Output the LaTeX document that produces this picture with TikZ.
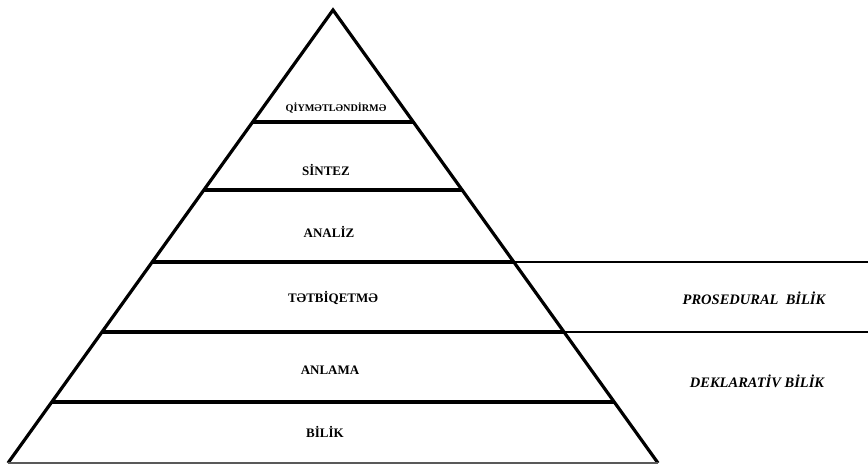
\documentclass[tikz,border=0pt]{standalone}
\usepackage{fontspec}
\setmainfont{Liberation Serif}
\begin{document}
\begin{tikzpicture}[x=1pt,y=-1pt,
  thickline/.style={line width=3.2pt},
  thinline/.style={line width=2pt},
  lvl/.style={font=\bfseries\fontsize{13}{15}\selectfont},
  side/.style={font=\bfseries\itshape\fontsize{14.5}{16}\selectfont}]
\useasboundingbox (0,0) rectangle (868,466);
\coordinate (apex) at (333,10);
\coordinate (bl) at (8,463);
\coordinate (br) at (658,463);
\draw[thickline, line join=miter] (bl) -- (apex) -- (br);
\draw[line width=1.2pt, gray!70!black] (bl) -- (br);
% level lines: x = 333 -/+ 0.7174*(y-10)
\foreach \y in {122,190,262,332,402}{
  \pgfmathsetmacro{\dx}{0.7174*(\y-10)}
  \draw[thickline] ({333-\dx},\y) -- ({333+\dx},\y);
}
\draw[thinline] ({333+0.7174*252},262) -- (868,262);
\draw[thinline] ({333+0.7174*322},332) -- (868,332);
\node[lvl, font=\bfseries\fontsize{10.2}{12}\selectfont] (q) at (336,108) {QİYMƏTLƏNDİRMƏ};
\node[lvl] (s) at (326,170) {SİNTEZ};
\node[lvl] (a) at (329,232) {ANALİZ};
\node[lvl] (t) at (333,298) {TƏTBİQETMƏ};
\node[lvl] (an) at (330,370) {ANLAMA};
\node[lvl] (b) at (325,432) {BİLİK};
\node[side] (p) at (754,298) {PROSEDURAL\ \ BİLİK};
\node[side] (d) at (757,381) {DEKLARATİV BİLİK};
\end{tikzpicture}
\end{document}
